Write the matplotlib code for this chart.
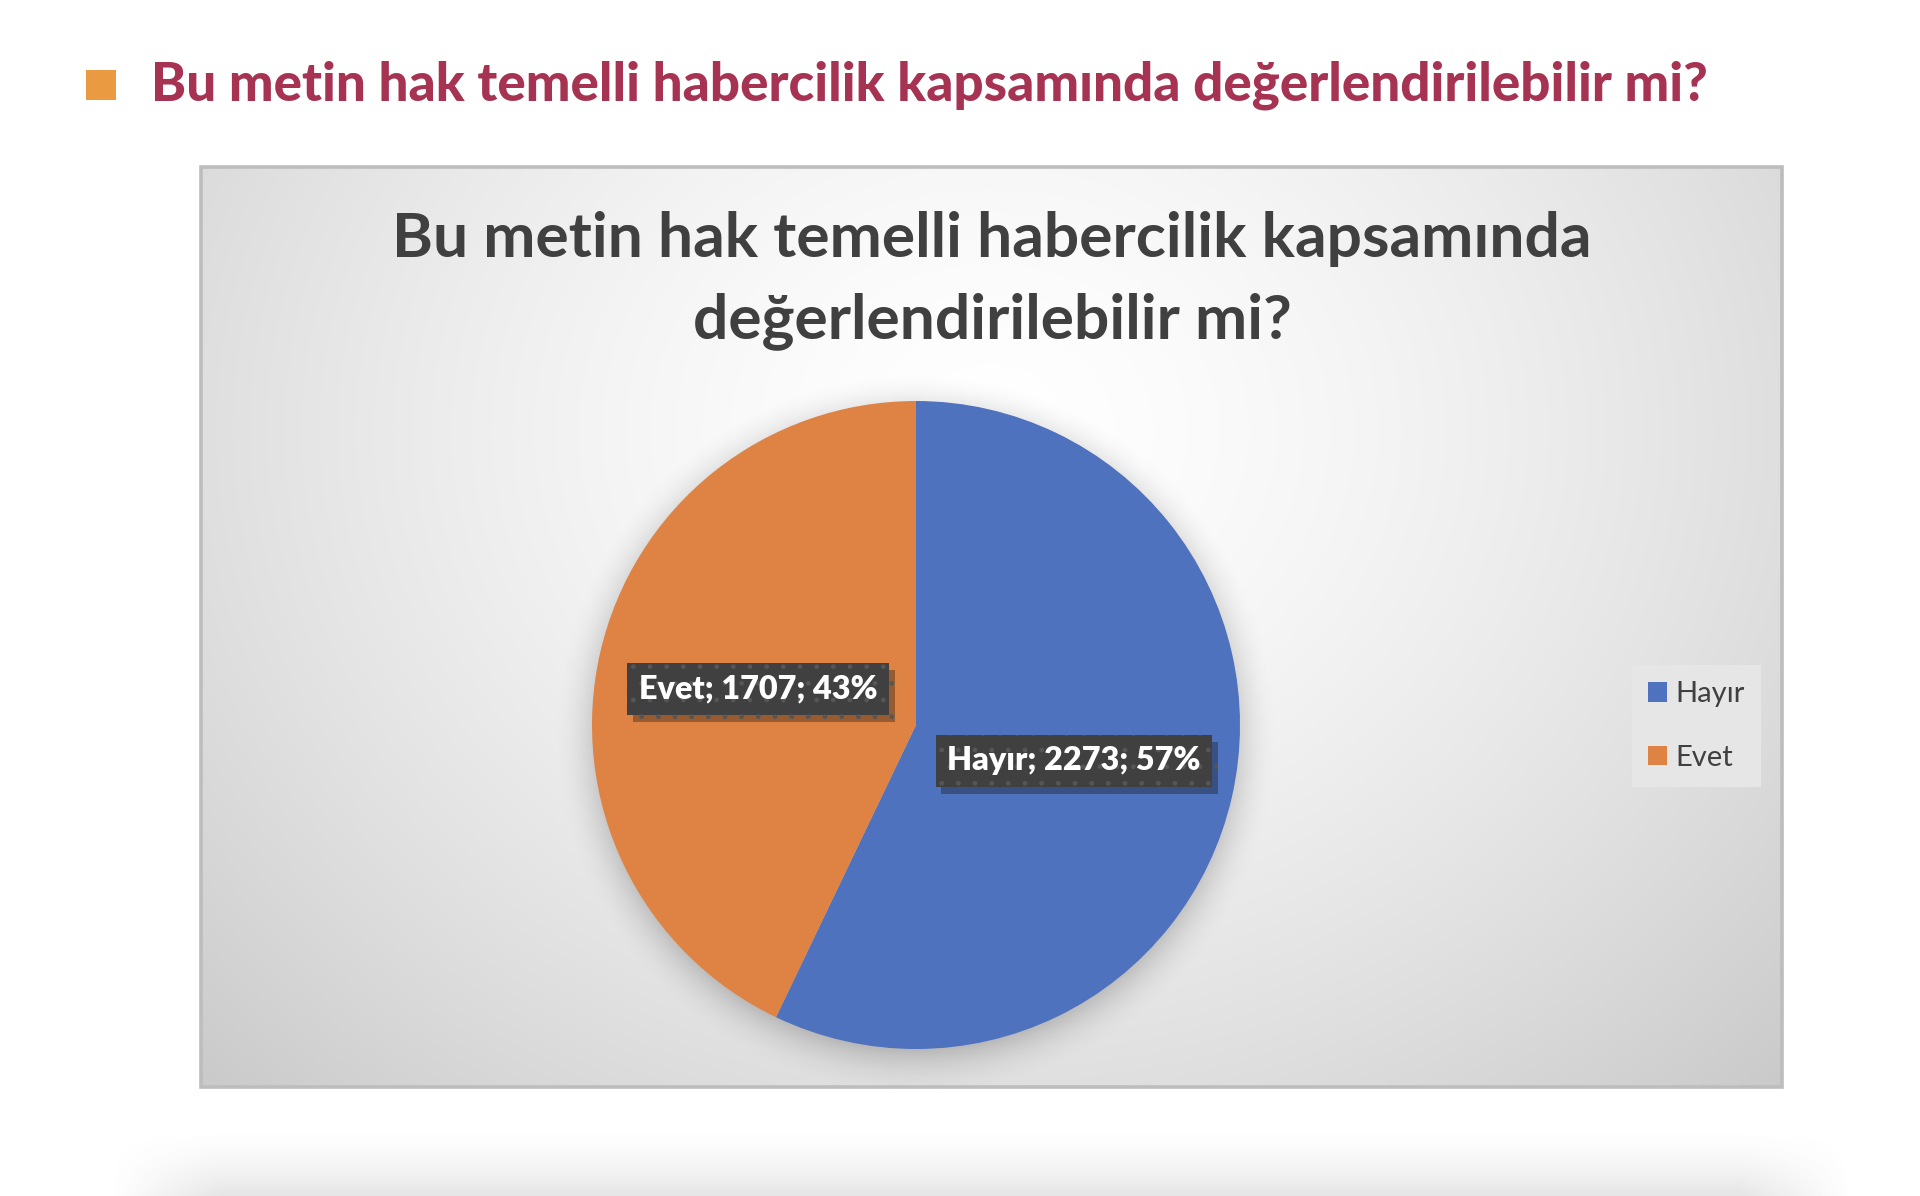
import numpy as np
import matplotlib
matplotlib.use('Agg')
import matplotlib.pyplot as plt
from matplotlib.patches import Rectangle
import matplotlib.patheffects as pe

# ---------------- data ----------------
categories = ['Hayır', 'Evet']
values = [2273, 1707]
colors = ['#4E72BE', '#DE8344']
header_text = 'Bu metin hak temelli habercilik kapsamında değerlendirilebilir mi?'
title_lines = ['Bu metin hak temelli habercilik kapsamında', 'değerlendirilebilir mi?']

FONT = ['Lato', 'DejaVu Sans']
plt.rcParams['font.family'] = FONT

W, H = 1920, 1196
fig = plt.figure(figsize=(W / 100, H / 100), dpi=100)
fig.patch.set_facecolor('white')
bg = fig.add_axes([0, 0, 1, 1])
bg.axis('off')

# page shadow at the bottom
xs = np.arange(0, W, 2)
ys = np.arange(1110, H)
X, Y = np.meshgrid(xs, ys)
va = np.clip((Y - 1125) / 71, 0, 1) ** 1.6 * 0.16
hb = np.clip((X - 110) / 110, 0, 1) * np.clip((1850 - X) / 110, 0, 1)
sh = np.zeros(X.shape + (4,))
sh[..., :3] = 0.35
sh[..., 3] = va * hb
bg.imshow(sh, extent=[0, W, H, 1110], zorder=0, interpolation='bilinear', aspect='auto')

# chart area with radial gradient
x0, x1, y0, y1 = 201, 1782, 167, 1087
bx = np.linspace(x0, x1, 500)
by = np.linspace(y0, y1, 300)
BX, BY = np.meshgrid(bx, by)
d = np.sqrt(((BX - 990) / 950) ** 2 + ((BY - 430) / 800) ** 2)
g = 1 - 0.165 * np.clip(d, 0, 1.2) ** 1.5
grad = np.dstack([g, g, g])
bg.imshow(grad, extent=[x0, x1, y1, y0], zorder=1, interpolation='bilinear', aspect='auto')

# pie shadow
cx, cy, R = 916, 725, 324
sx = np.arange(cx - R - 80, cx + R + 80)
sy = np.arange(cy - R - 80, cy + R + 90)
SX, SY = np.meshgrid(sx, sy)
r = np.sqrt((SX - cx) ** 2 + (SY - (cy + 9)) ** 2)
sa = 0.30 * np.clip((R + 40 - r) / 50, 0, 1) ** 2
ps = np.zeros(SX.shape + (4,))
ps[..., :3] = 0.3
ps[..., 3] = sa
bg.imshow(ps, extent=[sx[0], sx[-1], sy[-1], sy[0]], zorder=2, interpolation='bilinear', aspect='auto')

bg.add_patch(Rectangle((x0, y0), x1 - x0, y1 - y0, fill=False, edgecolor='#BDBDBD', lw=2.6, zorder=3))

# header
bg.add_patch(Rectangle((86, 70), 30, 30, facecolor='#EA9A40', edgecolor='none', zorder=3))
hdr = bg.text(151, 101, header_text, fontsize=40, fontweight='black', color='#A73353',
              ha='left', va='baseline', zorder=4, family=FONT)

# chart title
t1 = bg.text(992, 239, title_lines[0], fontsize=40, fontweight='bold', color='#404040',
             ha='center', va='center', zorder=4, family=FONT)
t2 = bg.text(992, 321, title_lines[1], fontsize=40, fontweight='bold', color='#404040',
             ha='center', va='center', zorder=4, family=FONT)

bg.set_xlim(0, W)
bg.set_ylim(H, 0)

# pie
ax = fig.add_axes([(cx - R) / W, (H - cy - R) / H, 2 * R / W, 2 * R / H])
wedges, _ = ax.pie(values, colors=colors, startangle=90, counterclock=False, radius=1,
                   wedgeprops=dict(linewidth=0))
ax.set_xlim(-1, 1)
ax.set_ylim(-1, 1)
ax.axis('off')

total = sum(values)
labels = []
for w, cat, val in zip(wedges, categories, values):
    th = np.deg2rad((w.theta1 + w.theta2) / 2)
    pct = round(100 * val / total)
    t = ax.text(0.5 * np.cos(th), 0.5 * np.sin(th), f'{cat}; {val}; {pct}%',
                ha='center', va='center', color='white', fontweight='heavy', fontsize=24,
                family=FONT, zorder=5,
                bbox=dict(boxstyle='square,pad=0.36', facecolor='#404040', edgecolor='#565656',
                          hatch='.', linewidth=0))
    t.get_bbox_patch().set_path_effects([pe.SimplePatchShadow(offset=(4, -5), alpha=0.35),
                                         pe.Normal()])
    labels.append(t)

leg = fig.legend(wedges, categories, loc='upper left',
                 bbox_to_anchor=(1632 / W, 1 - 665 / H), borderaxespad=0,
                 frameon=True, fancybox=False, facecolor='#E6E6E6', edgecolor='none',
                 framealpha=1, handlelength=0.65, handleheight=0.65,
                 handletextpad=0.3, labelspacing=1.3, borderpad=0.55,
                 prop=dict(family=FONT, size=21))
for txt in leg.get_texts():
    txt.set_color('#404040')

# fit text widths to reference
fig.canvas.draw()
rend = fig.canvas.get_renderer()
def fit(t, target):
    bb = t.get_window_extent(rend)
    t.set_fontsize(t.get_fontsize() * target / bb.width)

fit(hdr, 1552)
fit(t1, 1200)
t2.set_fontsize(t1.get_fontsize())
fit(labels[1], 239)
labels[0].set_fontsize(labels[1].get_fontsize())

fig.savefig('out.png', dpi=100, facecolor='white')
